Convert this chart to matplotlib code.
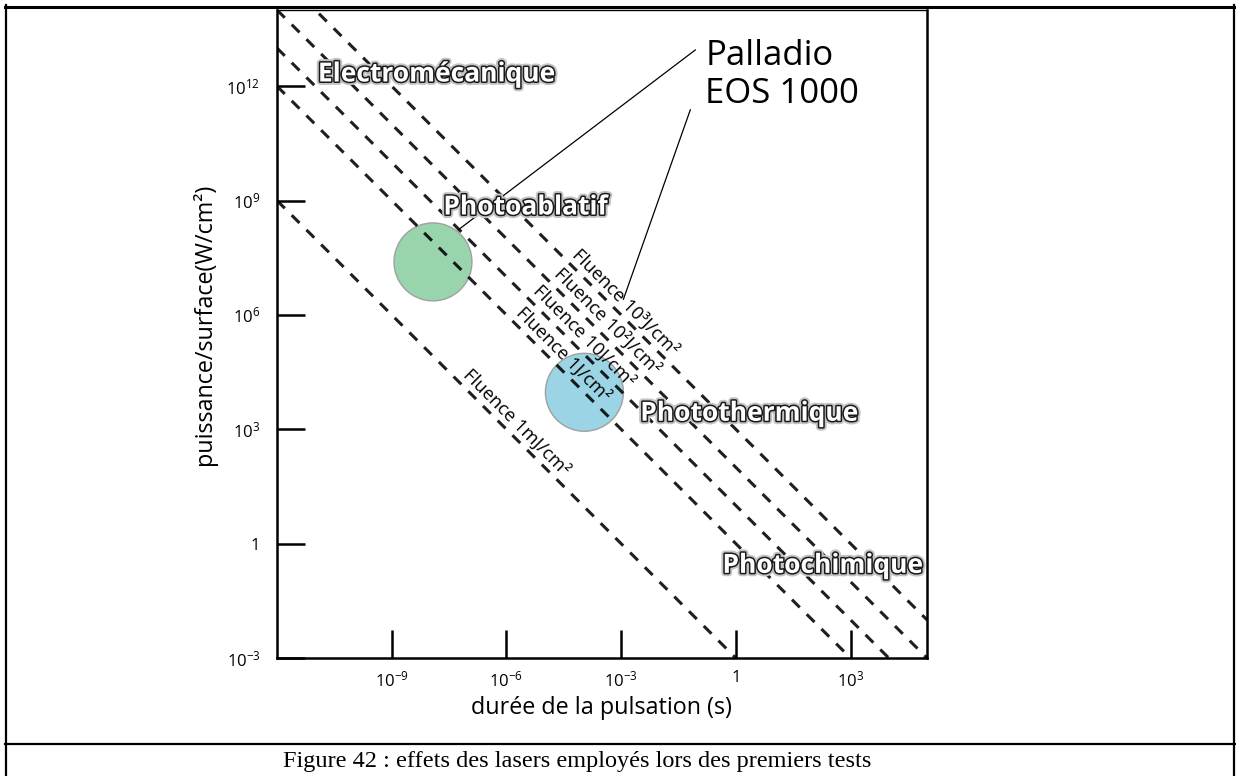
import numpy as np
import matplotlib
matplotlib.use("Agg")
import matplotlib.pyplot as plt
import matplotlib.patheffects as pe
from matplotlib.lines import Line2D

plt.rcParams['font.family'] = ['Open Sans', 'DejaVu Sans']
plt.rcParams['mathtext.fontset'] = 'custom'
plt.rcParams['mathtext.rm'] = 'Open Sans'
plt.rcParams['mathtext.it'] = 'Open Sans'

# Fluences (J/cm2) : P = F / t
fluences = [1e-3, 1, 10, 100, 1000]
fluence_labels = ['Fluence 1mJ/cm²', 'Fluence 1J/cm²', 'Fluence 10J/cm²',
                  'Fluence 10²J/cm²', 'Fluence 10³J/cm²']
# position du texte le long de chaque droite (log10 t)
fluence_label_logt = [-5.90, -4.67, -4.15, -3.54, -3.05]

x_ticks = [1e-9, 1e-6, 1e-3, 1, 1e3]
x_ticklabels = ['$10^{-9}$', '$10^{-6}$', '$10^{-3}$', '1', '$10^{3}$']
y_ticks = [1e-3, 1, 1e3, 1e6, 1e9, 1e12]
y_ticklabels = ['$10^{-3}$', '1', '$10^{3}$', '$10^{6}$', '$10^{9}$', '$10^{12}$']

# lasers (durée, puissance/surface)
lasers = ['Palladio', 'EOS 1000']
laser_t = [10**-7.92, 10**-3.96]
laser_p = [10**7.39, 10**3.97]
laser_colors = ['#98d5ac', '#9bd4e4']

# zones
zones = ['Electromécanique', 'Photoablatif', 'Photothermique', 'Photochimique']
zone_t = [10**-10.93, 10**-7.65, 10**-2.50, 10**-0.35]
zone_p = [10**12.32, 10**8.83, 10**3.42, 10**-0.57]

fig = plt.figure(figsize=(12.36, 7.76), dpi=100)
ax = fig.add_axes([0.2241, 0.1521, 0.5259, 0.8351])
ax.set_xscale('log')
ax.set_yscale('log')
ax.set_xlim(1e-12, 1e5)
ax.set_ylim(1e-3, 1e14)

# droites de fluence
t = np.logspace(-12, 5, 200)
for F in fluences:
    ax.plot(t, F / t, color='black', lw=2.2, alpha=0.88,
            linestyle=(0, (3.6, 3.2)), zorder=3)

for F, lab, lt in zip(fluences, fluence_labels, fluence_label_logt):
    tt = 10**lt
    ax.text(tt, F / tt * 10**0.12, lab, rotation=-45, rotation_mode='anchor',
            ha='center', va='bottom', fontsize=13.2, zorder=4)

# cercles des lasers
ax.scatter(laser_t, laser_p, s=3150, c=laser_colors, edgecolors='#a0a0a0',
           linewidths=1, zorder=2)

# noms des lasers + traits
ax.text(10**-0.80, 10**12.80, lasers[0], fontsize=25, va='center', zorder=5)
ax.text(10**-0.80, 10**11.80, lasers[1], fontsize=25, va='center', zorder=5)
ax.plot([10**-1.06, 10**-7.26], [10**12.95, 10**8.23], color='black', lw=0.9, zorder=5)
ax.plot([10**-1.19, 10**-2.94], [10**11.38, 10**6.41], color='black', lw=0.9, zorder=5)

# zones
effects = [pe.Stroke(linewidth=5, foreground='#c4c4c4'),
           pe.Stroke(linewidth=2.2, foreground='#1a1a1a'),
           pe.Normal()]
for name, zt, zp in zip(zones, zone_t, zone_p):
    ax.text(zt, zp, name, fontsize=19, fontweight='bold', color='white',
            va='center', ha='left', path_effects=effects, zorder=6)

ax.set_xticks(x_ticks)
ax.set_xticklabels(x_ticklabels)
ax.set_yticks(y_ticks)
ax.set_yticklabels(y_ticklabels)
ax.minorticks_off()
ax.tick_params(direction='in', length=20, width=1.8, labelsize=12, pad=9)
ax.tick_params(axis='y', pad=12)
for s in ax.spines.values():
    s.set_linewidth(1.8)
ax.spines['top'].set_linewidth(1.0)

ax.set_xlabel('durée de la pulsation (s)', fontsize=16.8)
ax.set_ylabel('puissance/surface(W/cm²)', fontsize=16.8)
ax.xaxis.set_label_coords(0.4985, -0.059)
ax.yaxis.set_label_coords(-0.092, 0.515)

# cadre du tableau
W, H = 1236, 776
def hline(y, x0, x1, lw):
    fig.add_artist(Line2D([x0 / W, x1 / W], [1 - y / H, 1 - y / H],
                          color='black', lw=lw, transform=fig.transFigure))
def vline(x, y0, y1, lw):
    fig.add_artist(Line2D([x / W, x / W], [1 - y0 / H, 1 - y1 / H],
                          color='black', lw=lw, transform=fig.transFigure))

hline(6.5, 5, 1235, 2.2)
hline(744, 5, 1235, 1.6)
vline(6, 5, 776, 1.6)
vline(1234, 5, 776, 1.6)

fig.text(577 / W, 9 / H, 'Figure 42 : effets des lasers employés lors des premiers tests',
         family='Liberation Serif', fontsize=17.5, ha='center', va='baseline')

fig.savefig('out.png', dpi=100)
